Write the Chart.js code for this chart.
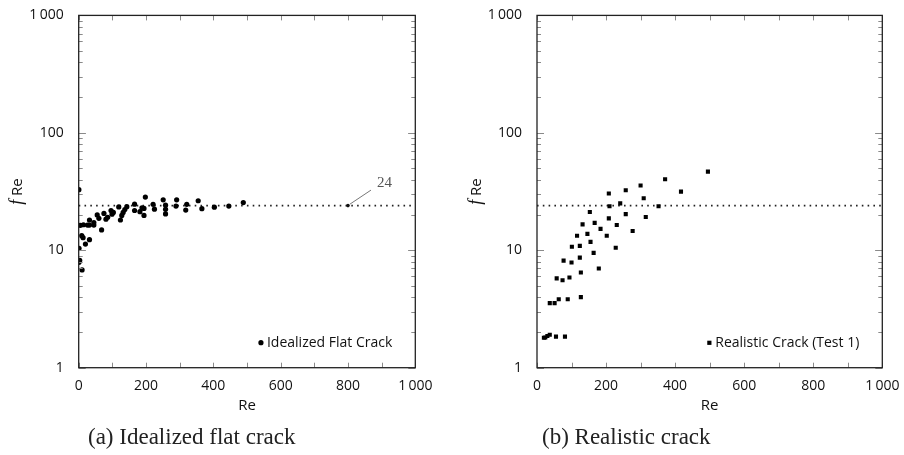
<!DOCTYPE html>
<html>
<head>
<meta charset="utf-8">
<script src="https://cdn.jsdelivr.net/npm/chart.js@4.4.1/dist/chart.umd.min.js"></script>
<style>
  body { margin: 0; background: #fff; }
  #wrap { position: relative; width: 904px; height: 455px; overflow: hidden; }
  canvas { position: absolute; top: 0; }
  .cap { position: absolute; font-family: "Liberation Serif", serif; font-size: 23px; color: #222; white-space: nowrap; line-height: 1; }
</style>
</head>
<body>
<div id="wrap">
  <canvas id="izq" width="452" height="455" style="left:0"></canvas>
  <canvas id="der" width="452" height="455" style="left:452px"></canvas>
  <div class="cap" style="left:88px;top:425px">(a) Idealized flat crack</div>
  <div class="cap" style="left:542px;top:425px">(b) Realistic crack</div>
</div>
<script>
// datos
const flatRe  = [0.5, 1, 1, 3, 10, 5, 14, 26, 32, 45, 9, 13, 20, 32, 32, 45, 55, 60, 68, 75,
                 81, 86, 96, 99, 103, 119, 124, 128, 132, 137, 143, 166, 166, 182, 188, 194, 194, 198,
                 221, 225, 251, 258, 258, 258, 291, 289, 321, 318, 355, 366, 403, 446, 489];
const flatFRe = [32.8, 10.4, 7.9, 8.2, 6.8, 16.3, 16.5, 16.4, 16.4, 16.4, 13.3, 12.8, 11.3, 12.3, 18.1, 17.2, 20.0, 18.7, 14.9, 20.6,
                 18.4, 19.1, 21.8, 20.3, 21.0, 23.4, 18.1, 19.8, 21.0, 22.2, 23.5, 24.7, 21.8, 21.3, 23.0, 19.8, 22.7, 28.4,
                 24.6, 22.4, 26.9, 24.2, 22.3, 20.4, 26.9, 23.8, 24.6, 22.0, 26.4, 22.6, 23.3, 23.8, 25.5];

const realRe  = [20, 24, 30, 37, 55, 81, 37, 51, 63, 89, 127, 57, 74, 94, 127, 77, 100, 124, 179,
                 101, 124, 164, 228, 116, 155, 146, 132, 167, 184, 202, 153, 208, 231, 277,
                 210, 208, 241, 257, 257, 300, 309, 315, 352, 371, 417, 495];
const realFRe = [1.80, 1.81, 1.86, 1.91, 1.84, 1.84, 3.55, 3.55, 3.83, 3.83, 3.99, 5.76, 5.55, 5.87, 6.47, 8.17, 7.86, 8.66, 7.0,
                 10.7, 10.9, 9.5, 10.5, 13.3, 11.8, 13.8, 16.6, 17.1, 15.2, 13.3, 21.2, 18.7, 16.4, 14.6,
                 23.7, 30.4, 25.1, 32.4, 20.3, 35.6, 27.7, 19.2, 23.7, 40.2, 31.6, 46.7];

const laminarRe  = [0, 1000];
const laminarFRe = [24, 24];

const xTickVals   = [0, 200, 400, 600, 800, 1000];
const xTickLabels = ['0', '200', '400', '600', '800', '1\u2009000'];
const yTickVals   = [1, 10, 100, 1000];
const yTickLabels = ['1', '10', '100', '1\u2009000'];

const zip = (xs, ys) => xs.map((x, i) => ({ x: x, y: ys[i] }));

const tinta = '#111';
const fuente = '"Open Sans", sans-serif';

// marco cerrado y marcas hacia dentro
const marco = {
  id: 'marco',
  afterDatasetsDraw(chart) {
    const { ctx, chartArea: a, scales: { x, y } } = chart;
    ctx.save();
    ctx.strokeStyle = '#8a8a8a';
    ctx.lineWidth = 1;
    for (let v = 0; v <= 1000; v += 100) {
      const px = Math.round(x.getPixelForValue(v)) + 0.5;
      ctx.beginPath();
      ctx.moveTo(px, a.top); ctx.lineTo(px, a.top + 5);
      ctx.moveTo(px, a.bottom); ctx.lineTo(px, a.bottom - 5);
      ctx.stroke();
    }
    [1, 10, 100].forEach(d => {
      for (let m = 1; m <= 10; m++) {
        const py = Math.round(y.getPixelForValue(m * d)) + 0.5;
        const l = (m === 1 || m === 10) ? 7 : 4;
        ctx.beginPath();
        ctx.moveTo(a.left, py); ctx.lineTo(a.left + l, py);
        ctx.moveTo(a.right, py); ctx.lineTo(a.right - l, py);
        ctx.stroke();
      }
    });
    ctx.strokeStyle = '#222';
    ctx.lineWidth = 1.3;
    ctx.strokeRect(a.left, a.top, a.right - a.left, a.bottom - a.top);
    ctx.restore();
  },
  afterDraw(chart, args, opts) {
    const { ctx, chartArea: a } = chart;
    ctx.save();
    // titulo eje y: f en cursiva + Re
    const f1 = 'italic 18px "Liberation Serif", serif';
    const f2 = '15px ' + fuente;
    ctx.font = f1; const w1 = ctx.measureText('f').width;
    ctx.font = f2; const w2 = ctx.measureText(' Re').width;
    ctx.translate(a.left - 62, (a.top + a.bottom) / 2);
    ctx.rotate(-Math.PI / 2);
    ctx.fillStyle = tinta;
    ctx.textBaseline = 'alphabetic';
    ctx.textAlign = 'left';
    ctx.font = f1; ctx.fillText('f', -(w1 + w2) / 2, 5.5);
    ctx.font = f2; ctx.fillText(' Re', -(w1 + w2) / 2 + w1, 5.5);
    ctx.restore();

    // leyenda
    ctx.save();
    ctx.font = '14px ' + fuente;
    ctx.fillStyle = tinta;
    const tw = ctx.measureText(opts.texto).width;
    const tx = a.right - 23 - tw, ty = a.bottom - 25;
    ctx.textBaseline = 'middle';
    ctx.fillText(opts.texto, tx, ty);
    ctx.fillStyle = '#000';
    if (opts.forma === 'circle') {
      ctx.beginPath(); ctx.arc(tx - 6, ty, 2.6, 0, Math.PI * 2); ctx.fill();
    } else {
      ctx.fillRect(tx - 8, ty - 2, 4.2, 4.2);
    }
    ctx.restore();

    // anotacion del valor laminar
    if (opts.nota) {
      const n = opts.nota;
      const px = chart.scales.x.getPixelForValue(n.x), py = chart.scales.y.getPixelForValue(n.y);
      ctx.save();
      ctx.fillStyle = '#111';
      ctx.beginPath(); ctx.arc(px, py, 1.8, 0, Math.PI * 2); ctx.fill();
      ctx.strokeStyle = '#777'; ctx.lineWidth = 1;
      ctx.beginPath(); ctx.moveTo(px + 2, py - 1.5); ctx.lineTo(px + 23, py - 15.5); ctx.stroke();
      ctx.font = '15px "Liberation Serif", serif';
      ctx.fillStyle = '#555';
      ctx.textAlign = 'center'; ctx.textBaseline = 'middle';
      ctx.fillText(n.texto, px + 36.5, py - 23);
      ctx.restore();
    }
  }
};

function crearGrafico(id, puntos, estilo, radio, pad, anchoY, leyenda) {
  return new Chart(document.getElementById(id), {
    type: 'scatter',
    data: {
      datasets: [
        { data: puntos, pointStyle: estilo, pointRadius: radio, pointHoverRadius: radio,
          backgroundColor: '#000', borderWidth: 0 },
        { type: 'line', data: zip(laminarRe, laminarFRe), borderColor: '#222', borderWidth: 1.6,
          borderDash: [1.6, 4.2], pointRadius: 0, fill: false }
      ]
    },
    options: {
      responsive: false,
      animation: false,
      events: [],
      layout: { padding: pad },
      plugins: { legend: { display: false }, tooltip: { enabled: false }, marco: leyenda },
      scales: {
        x: {
          type: 'linear', min: 0, max: 1000,
          afterBuildTicks: s => { s.ticks = xTickVals.map(v => ({ value: v })); },
          afterFit: s => { s.height = 87.3; },
          grid: { display: false },
          border: { display: false },
          ticks: { padding: 2, color: tinta, font: { family: fuente, size: 14 },
                   maxRotation: 0, callback: v => xTickLabels[xTickVals.indexOf(v)] },
          title: { display: true, text: 'Re', color: tinta, font: { family: fuente, size: 15 },
                   padding: { top: 0, bottom: 40 } }
        },
        y: {
          type: 'logarithmic', min: 1, max: 1000,
          afterBuildTicks: s => { s.ticks = yTickVals.map(v => ({ value: v })); },
          afterFit: s => { s.width = anchoY; },
          grid: { display: false },
          border: { display: false },
          ticks: { padding: 7, color: tinta, font: { family: fuente, size: 14 },
                   callback: v => yTickLabels[yTickVals.indexOf(v)] }
        }
      }
    },
    plugins: [marco]
  });
}

crearGrafico('izq', zip(flatRe, flatFRe), 'circle', 2.6,
  { left: 0, top: 12, right: 452 - 415.3, bottom: 0 }, 78.7,
  { texto: 'Idealized Flat Crack', forma: 'circle', nota: { x: 800, y: 24, texto: '24' } });

crearGrafico('der', zip(realRe, realFRe), 'rect', 2.9,
  { left: 0, top: 12, right: 452 - 430.3, bottom: 0 }, 85,
  { texto: 'Realistic Crack (Test 1)', forma: 'rect' });
</script>
</body>
</html>
